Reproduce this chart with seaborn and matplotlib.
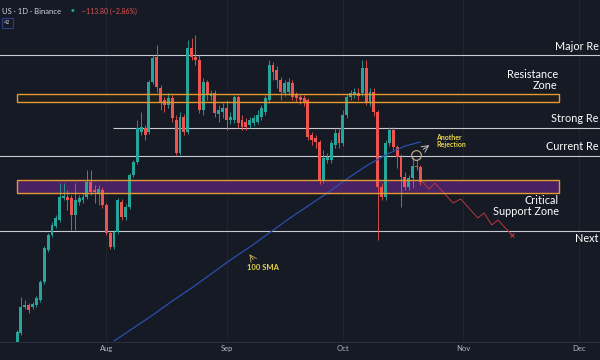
import numpy as np
import pandas as pd
import matplotlib
matplotlib.use("Agg")
import matplotlib.pyplot as plt
import matplotlib.dates as mdates
from matplotlib.patches import Rectangle
import seaborn as sns

# daily candles (price units are arbitrary, no price axis shown)
opens = [17, 27, 53, 55, 53, 55, 60, 78, 110, 125,
         134, 140, 162, 163, 162, 145, 158, 160, 163, 178,
         170, 167, 170, 155, 127, 113, 128, 158, 143, 153,
         185, 198, 228, 232, 228, 278, 303, 272, 260, 255,
         262, 240, 207, 243, 228, 312, 303, 300, 250, 278,
         264, 267, 246, 248, 252, 240, 240, 263, 240, 238,
         235, 237, 238, 243, 248, 260, 295, 290, 280, 267,
         268, 277, 265, 263, 262, 260, 225, 222, 218, 180,
         200, 200, 215, 227, 217, 245, 263, 265, 267, 267,
         292, 258, 268, 248, 173, 163, 217, 230, 213, 203,
         183, 173, 182, 194, 193]
closes = [28, 53, 55, 50, 56, 62, 78, 112, 125, 135,
          142, 163, 164, 160, 145, 160, 162, 163, 178, 168,
          168, 171, 155, 127, 113, 128, 160, 143, 153, 185,
          198, 232, 233, 225, 278, 302, 273, 257, 255, 262,
          242, 207, 243, 228, 312, 303, 300, 250, 278, 265,
          267, 247, 250, 252, 240, 243, 263, 237, 233, 233,
          240, 242, 245, 252, 262, 295, 288, 280, 268, 277,
          278, 263, 262, 260, 258, 223, 220, 218, 180, 202,
          203, 217, 227, 217, 245, 263, 267, 268, 264, 292,
          258, 268, 248, 173, 163, 217, 230, 213, 203, 183,
          173, 182, 194, 193, 178]
highs = [30, 63, 60, 57, 58, 64, 80, 114, 127, 138,
         145, 177, 177, 170, 165, 177, 165, 167, 190, 190,
         175, 175, 173, 157, 129, 130, 162, 161, 156, 187,
         200, 240, 248, 235, 280, 305, 315, 275, 263, 267,
         265, 245, 248, 246, 320, 322, 325, 305, 282, 280,
         270, 270, 255, 257, 260, 248, 265, 265, 245, 242,
         243, 245, 250, 255, 265, 300, 298, 294, 283, 280,
         282, 280, 268, 266, 265, 262, 228, 225, 220, 210,
         207, 220, 232, 232, 250, 266, 270, 272, 272, 300,
         300, 272, 272, 250, 177, 220, 233, 233, 215, 206,
         188, 185, 203, 200, 195]
lows = [15, 25, 51, 47, 51, 53, 58, 76, 108, 123,
        132, 138, 160, 150, 130, 130, 155, 157, 161, 165,
        157, 155, 152, 125, 111, 111, 126, 140, 140, 151,
        183, 196, 225, 220, 226, 276, 268, 250, 248, 252,
        238, 205, 205, 225, 226, 300, 295, 247, 245, 260,
        260, 243, 238, 242, 230, 236, 237, 232, 230, 230,
        232, 234, 236, 240, 245, 257, 280, 272, 260, 264,
        265, 260, 258, 256, 254, 220, 215, 212, 176, 177,
        197, 197, 212, 212, 214, 242, 260, 262, 260, 264,
        255, 254, 244, 120, 160, 160, 214, 210, 192, 153,
        170, 170, 172, 190, 175]

# 100 SMA (days after first candle, value)
sma_days = [25, 30, 35, 40, 45, 50, 55, 60, 65, 70, 75, 80, 85, 90, 95, 100, 104]
sma_vals = [19, 32, 45, 59, 72, 86, 100, 113, 127, 141, 154, 167, 181, 194, 205, 214, 218]

# projected path after the last candle
proj_days = [104.6, 106.2, 107.7, 112.4, 114.4, 118.8, 120.4, 122.4, 124.0, 127.6]
proj_vals = [178, 171, 177, 157, 161, 142, 147, 135, 140, 125]

# key levels
major_res = 305
res_zone = (258, 266)
strong_res = 232
current_res = 204
support_zone = (167, 180)
next_support = 129

start = pd.Timestamp("2024-07-09")


def day(d):
    return start + pd.Timedelta(days=d)


bg = "#161a25"
green = "#26a69a"
red = "#ef5350"
orange = "#e39b2f"
yellow = "#e6d24a"
line_col = "#c9cbd1"

sns.set_theme(style="dark", rc={"axes.facecolor": bg, "figure.facecolor": bg})
plt.rcParams["font.family"] = ["Lato", "DejaVu Sans"]

fig = plt.figure(figsize=(6, 3.6), dpi=100)
ax = fig.add_axes([0, 18 / 360, 1, 342 / 360])

df = pd.DataFrame({"date": pd.date_range(start, periods=len(opens), freq="D"),
                   "open": opens, "high": highs, "low": lows, "close": closes})
col = np.where(df["close"] >= df["open"], green, red)

# zones (fill under the candles, outline on top)
for (lo, hi), fc in [(res_zone, "#211f1d"), (support_zone, "#4a2264")]:
    x0 = mdates.date2num(day(0))
    ax.add_patch(Rectangle((x0, lo), 139.7, hi - lo, facecolor=fc, edgecolor="none", zorder=1))
    ax.add_patch(Rectangle((x0, lo), 139.7, hi - lo, fill=False, edgecolor=orange, lw=1.0, zorder=4))

# horizontal levels
ax.hlines([major_res, current_res, next_support], day(-6), day(160), color=line_col, lw=0.8, zorder=2)
ax.hlines(strong_res, day(24.7), day(160), color=line_col, lw=0.8, zorder=2)

# candles
ax.vlines(df["date"], df["low"], df["high"], colors=col, lw=0.6, zorder=3)
body_lo = np.minimum(df["open"], df["close"])
body_h = np.maximum(np.abs(df["close"] - df["open"]), 1.2)
ax.bar(df["date"], body_h, bottom=body_lo, width=0.75, color=col, linewidth=0, zorder=3)

# 100 SMA and projection
sns.lineplot(x=[day(d) for d in sma_days], y=sma_vals, color="#2b4fae", lw=0.9, ax=ax, zorder=3)
sns.lineplot(x=[day(d) for d in proj_days], y=proj_vals, sort=False, color="#b8383c", lw=0.7,
             ax=ax, zorder=3)
ax.plot(day(proj_days[-1]), proj_vals[-1], marker="x", ms=2.5, mew=0.8, color="#b8383c", zorder=3)

# labels for levels (the right-hand ones are cut by the chart edge in the source)
tk = dict(color="white", fontsize=7.8, va="center", zorder=5)
edge = day(149.9)
ax.text(edge, 314, "Major Re", ha="right", **tk)
ax.text(day(139.4), 280, "Resistance\nZone", ha="right", multialignment="right", linespacing=1.1, **tk)
ax.text(edge, 241, "Strong Re", ha="right", **tk)
ax.text(edge, 213, "Current Re", ha="right", **tk)
ax.text(day(139.7), 154, "Critical\nSupport Zone", ha="right", multialignment="right", linespacing=1.1, **tk)
ax.text(edge, 121, "Next", ha="right", **tk)

# annotations
ax.plot(day(102.8), 205, marker="o", ms=7, mfc="none", mec="#c8b48a", mew=0.8, zorder=5)
ax.annotate("", xy=(day(106.9), 216.5), xytext=(day(104.1), 209),
            arrowprops=dict(arrowstyle="->", color="#bdbdbd", lw=0.7), zorder=5)
ax.text(day(108), 219.5, "Another\nRejection", color=yellow, fontsize=5, fontweight="bold",
        ha="left", va="center", linespacing=1.0, zorder=5)
ax.annotate("", xy=(day(59.5), 108), xytext=(day(61.3), 98),
            arrowprops=dict(arrowstyle="->", color="#c9b25a", lw=0.6), zorder=5)
ax.text(day(59.2), 92, "100 SMA", color=yellow, fontsize=5.5, fontweight="bold",
        ha="left", va="center", zorder=5)

# axes
ax.set_xlim(day(-4.4), day(150.3))
ax.set_ylim(18, 360)
ax.xaxis.set_major_locator(mdates.MonthLocator())
ax.xaxis.set_major_formatter(mdates.DateFormatter("%b"))
ax.tick_params(axis="x", colors="#b2b5be", labelsize=5.5, length=0, pad=2.5)
ax.set_yticks([])
ax.set_xlabel("")
ax.set_ylabel("")
ax.grid(axis="x", color="#232734", lw=0.6)
for s in ["top", "left", "right"]:
    ax.spines[s].set_visible(False)
ax.spines["bottom"].set_color("#2f3340")
ax.spines["bottom"].set_linewidth(0.6)

# header
fig.text(2 / 600, 1 - 11 / 360, "US · 1D · Binance", color="#d1d4dc", fontsize=5.5, va="center")
fig.text(73 / 600, 1 - 10 / 360, "●", color="#22ab94", fontsize=4.5, va="center", ha="center")
fig.text(82 / 600, 1 - 11 / 360, "−113.80 (−2.86%)", color="#e0524f", fontsize=5, va="center")
fig.text(4 / 600, 1 - 23 / 360, "42", color="#d1d4dc", fontsize=4, va="center",
         bbox=dict(boxstyle="square,pad=0.4", fc=bg, ec="#2a3f8a", lw=0.8))

fig.savefig("out.png", dpi=100, facecolor=bg)
